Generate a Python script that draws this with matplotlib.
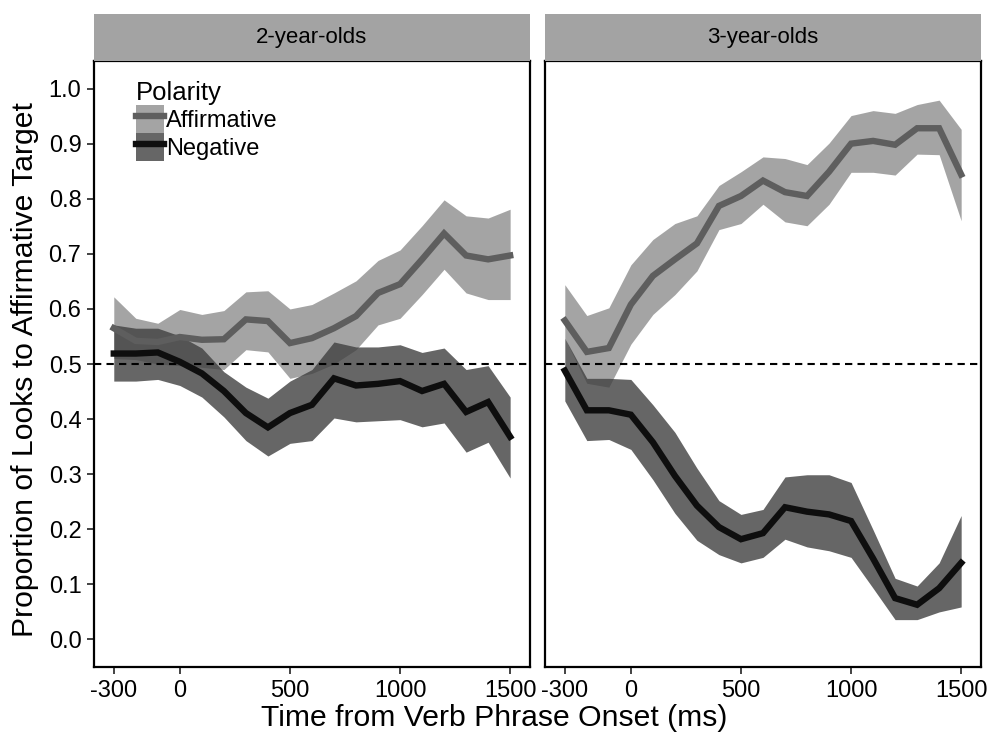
import numpy as np
import matplotlib
matplotlib.use("Agg")
import matplotlib.pyplot as plt
from matplotlib.patches import Patch
from matplotlib.lines import Line2D

plt.rcParams['font.family'] = ['Liberation Sans', 'DejaVu Sans']

time_ms = [-300, -200, -100, 0, 100, 200, 300, 400, 500, 600, 700, 800, 900,
           1000, 1100, 1200, 1300, 1400, 1500]
panels = ["2-year-olds", "3-year-olds"]

# 2-year-olds
aff2 = [0.565, 0.542, 0.540, 0.549, 0.544, 0.545, 0.581, 0.578, 0.538, 0.547,
        0.565, 0.587, 0.629, 0.645, 0.690, 0.737, 0.697, 0.690, 0.697]
aff2_hi = [0.622, 0.583, 0.574, 0.599, 0.590, 0.597, 0.631, 0.633, 0.600, 0.608,
           0.629, 0.651, 0.688, 0.707, 0.751, 0.798, 0.769, 0.765, 0.781]
aff2_lo = [0.510, 0.508, 0.500, 0.497, 0.494, 0.490, 0.526, 0.522, 0.474, 0.483,
           0.500, 0.526, 0.571, 0.583, 0.626, 0.672, 0.629, 0.617, 0.617]
neg2 = [0.519, 0.519, 0.521, 0.504, 0.483, 0.451, 0.411, 0.385, 0.411, 0.426,
        0.474, 0.461, 0.464, 0.469, 0.451, 0.464, 0.413, 0.431, 0.368]
neg2_hi = [0.571, 0.565, 0.565, 0.551, 0.529, 0.486, 0.458, 0.438, 0.469, 0.490,
           0.540, 0.531, 0.531, 0.535, 0.521, 0.529, 0.490, 0.497, 0.440]
neg2_lo = [0.469, 0.469, 0.472, 0.461, 0.440, 0.404, 0.361, 0.333, 0.356, 0.361,
           0.402, 0.395, 0.397, 0.399, 0.386, 0.393, 0.340, 0.358, 0.293]

# 3-year-olds
aff3 = [0.579, 0.522, 0.529, 0.608, 0.660, 0.690, 0.719, 0.787, 0.805, 0.833,
        0.812, 0.805, 0.849, 0.900, 0.905, 0.898, 0.928, 0.928, 0.844]
aff3_hi = [0.644, 0.588, 0.602, 0.680, 0.726, 0.755, 0.769, 0.824, 0.849, 0.876,
           0.873, 0.862, 0.901, 0.951, 0.960, 0.955, 0.971, 0.979, 0.926]
aff3_lo = [0.547, 0.465, 0.458, 0.536, 0.590, 0.626, 0.669, 0.744, 0.755, 0.790,
           0.758, 0.751, 0.790, 0.848, 0.848, 0.843, 0.881, 0.880, 0.760]
neg3 = [0.488, 0.416, 0.416, 0.408, 0.358, 0.297, 0.243, 0.204, 0.182, 0.193,
        0.240, 0.232, 0.227, 0.215, 0.147, 0.075, 0.063, 0.093, 0.139]
neg3_hi = [0.547, 0.474, 0.474, 0.472, 0.426, 0.376, 0.311, 0.252, 0.227, 0.236,
           0.295, 0.299, 0.299, 0.285, 0.199, 0.111, 0.097, 0.139, 0.225]
neg3_lo = [0.433, 0.361, 0.363, 0.345, 0.290, 0.229, 0.180, 0.154, 0.139, 0.149,
           0.182, 0.168, 0.161, 0.149, 0.093, 0.036, 0.036, 0.050, 0.059]

data = [
    (aff2, aff2_lo, aff2_hi, neg2, neg2_lo, neg2_hi),
    (aff3, aff3_lo, aff3_hi, neg3, neg3_lo, neg3_hi),
]

aff_fill = '#8e8e8e'
neg_fill = '#404040'
aff_line = '#5e5e5e'
neg_line = '#0e0e0e'
ribbon_alpha = 0.8
lw = 4.6

fig = plt.figure(figsize=(9.88, 7.38), dpi=100)

lefts = [0.0951, 0.5516]
width = 0.4413
bottom = 0.0962
height = 0.8211
strip_h = 0.0637

for i, (name, (a, alo, ahi, n, nlo, nhi)) in enumerate(zip(panels, data)):
    ax = fig.add_axes([lefts[i], bottom, width, height])
    ax.fill_between(time_ms, alo, ahi, color=aff_fill, alpha=ribbon_alpha, lw=0)
    ax.fill_between(time_ms, nlo, nhi, color=neg_fill, alpha=ribbon_alpha, lw=0)
    ax.axhline(0.5, color='black', ls=(0, (3.5, 2.5)), lw=1.5)
    ax.plot(time_ms, a, color=aff_line, lw=lw, solid_joinstyle='miter')
    ax.plot(time_ms, n, color=neg_line, lw=lw, solid_joinstyle='miter')

    ax.set_xlim(-390, 1590)
    ax.set_ylim(-0.05, 1.05)
    ax.set_xticks([-300, 0, 500, 1000, 1500])
    ax.set_xticklabels(['-300', '0', '500', '1000', '1500'])
    ax.set_yticks(np.arange(0, 1.01, 0.1))
    ax.tick_params(direction='out', length=5, width=1.2, color='#222222',
                   labelsize=17, labelcolor='black', pad=4)
    if i == 0:
        ax.set_yticklabels(['%.1f' % v for v in np.arange(0, 1.01, 0.1)])
    else:
        ax.tick_params(axis='y', left=False, labelleft=False)
    for sp in ax.spines.values():
        sp.set_linewidth(1.6)
        sp.set_color('black')

    if i == 0:
        h_aff = (Patch(facecolor=aff_fill, alpha=ribbon_alpha, lw=0),
                 Line2D([], [], color=aff_line, lw=lw))
        h_neg = (Patch(facecolor=neg_fill, alpha=ribbon_alpha, lw=0),
                 Line2D([], [], color=neg_line, lw=lw))
        leg = ax.legend([h_aff, h_neg], ['Affirmative', 'Negative'],
                        title='Polarity', loc='upper left',
                        bbox_to_anchor=(0.063, 0.99), frameon=False,
                        fontsize=17, title_fontsize=18.5, handlelength=1.2,
                        handleheight=1.45, handletextpad=0.1, labelspacing=0.0,
                        borderaxespad=0.2)
        leg._legend_box.align = 'left'

    sax = fig.add_axes([lefts[i], bottom + height, width, strip_h])
    sax.set_facecolor('#a3a3a3')
    sax.set_xticks([])
    sax.set_yticks([])
    for sp in sax.spines.values():
        sp.set_visible(False)
    sax.text(0.5, 0.5, name, ha='center', va='center', fontsize=16,
             transform=sax.transAxes)

fig.text(0.025, bottom + height / 2 - 0.008, 'Proportion of Looks to Affirmative Target',
         rotation=90, ha='center', va='center', fontsize=21.7)
fig.text(0.5, 0.027, 'Time from Verb Phrase Onset (ms)', ha='center',
         va='center', fontsize=21.7)

fig.savefig('out.png', dpi=100)
